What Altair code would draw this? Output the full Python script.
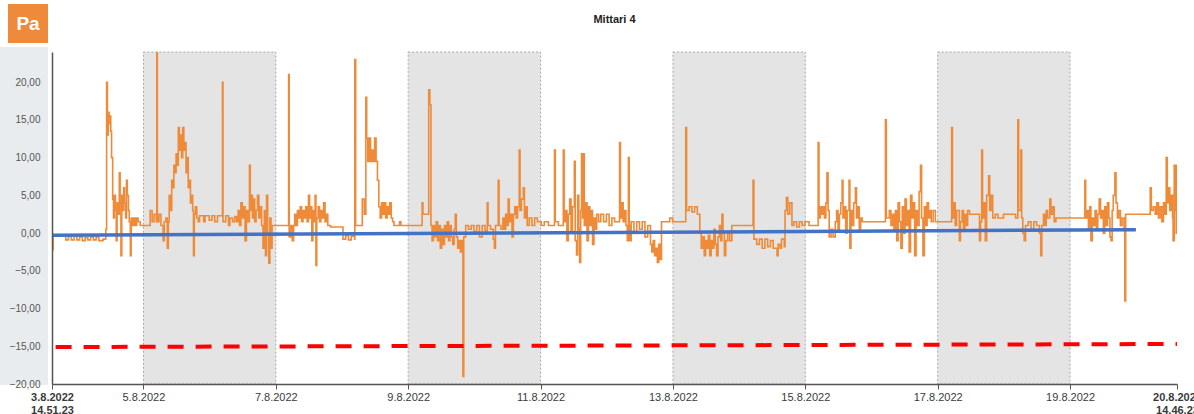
import altair as alt
import pandas as pd

# ---------------- data ----------------
START = "2022-08-03 14:51:23"
END = "2022-08-20 14:46:23"

# (hours since START, pressure Pa)
pressure_points = [
    (0, -2.2), (0.4, -0.3), (3, -0.3), (5, -0.9), (6, -0.4), (7, -0.9), (8, -0.4), (9, -0.9),
    (10, -0.5), (11, -1.0), (12, -0.6), (13, -0.9), (14, -0.5), (15, -0.9), (16, -0.5), (17, -1.0),
    (18.5, -0.8), (19.5, 0.5), (19.8, 20), (20.1, 13), (20.4, 16), (20.7, 14.5), (21, 15.5),
    (21.3, 13.5), (21.6, 10), (22, 4.5), (22.3, 2), (22.6, 5), (23, 3), (23.3, -1), (23.6, 4),
    (24, 2.5), (24.4, 8), (24.7, 4), (25, -3), (25.3, 5), (25.7, 3), (26, 6), (26.3, 4), (26.7, 2),
    (27, 7), (27.3, 5), (27.7, 3), (28, 1.5), (28.4, -3), (28.7, 2), (29.2, 1), (29.7, 2), (30.2, 1),
    (30.7, 2), (31.2, 1.5), (32, 1.0),
    (35.6, 3), (36.3, 1.5), (37, 2.5), (37.8, 1.5), (38, 25), (38.2, 1.5), (38.8, 2.5), (39.5, 1),
    (40.3, -1), (40.7, 1.5), (41.3, 2), (41.8, -2), (42.2, 1.5),
    (42.5, 5), (43, 3), (43.4, 7), (43.8, 6), (44.2, 9), (44.6, 8), (45, 10.5), (45.4, 9), (45.8, 14),
    (46.2, 11), (46.6, 13), (47, 10), (47.4, 14), (47.8, 11), (48.2, 12), (48.6, 8), (49, 10),
    (49.4, 6), (49.8, 7), (50.2, 4), (50.6, 5), (51, 3), (51.3, -3), (51.6, 2.5), (52, 3.5), (52.5, 2),
    (53, 1.5), (53.5, 2.3), (55, 1.5), (55.5, 2.3), (57, 1.7), (58, 2.3), (59, 1.5), (60, 2.3),
    (61.8, 20), (62, 1.5), (63, 2.3), (64, 1.0), (64.5, 2), (65.5, 1.5), (66.3, 2.2), (67, 1.5),
    (67.5, 3), (68, 1), (68.5, 4), (69, 2), (69.5, 3.5), (70, -1), (70.5, 3), (71, 1.5), (71.6, 9),
    (71.9, 3), (72.3, 5), (72.7, 2), (73.1, 4.5), (73.5, 1.5), (74, 3), (74.5, 5), (75, 2), (75.5, 3.5),
    (76, 1), (76.5, -2), (77, 3), (77.4, -3), (77.8, 5), (78.2, 0), (78.6, -4), (79, 2), (79.4, -2),
    (79.8, 1),
    (80.4, 1), (85.8, 21), (86, -0.5), (86.6, 1), (87.1, -1), (87.6, 1),
    (88, 2.5), (88.5, 1), (89, 3), (89.5, 2), (90, 3.5), (90.5, 1.5), (91, 3), (91.5, 2), (92, 3.5),
    (92.5, 1.5), (93, 5), (93.4, 2), (93.8, 3.5), (94.2, -1), (94.6, 3), (95, 1.5), (95.4, 5),
    (95.7, -4.3), (96, 2), (96.5, 3.5), (97, 1.5), (97.5, 3), (98, 2), (98.5, 4), (99, 1.5),
    (99.5, 2.5), (100, 1),
    (101, 0.8), (105.5, -0.8), (106.5, -0.3), (107.5, -0.9), (108.5, -0.4), (109.7, -0.8),
    (109.8, 23), (110.1, 1), (112.5, 4.5), (113.2, 2.5), (113.8, 18), (114.1, 12.6), (114.5, 9.5),
    (115, 12.6), (115.5, 9.5), (116, 11), (116.5, 9.5), (117, 12.6), (117.5, 9.5), (118, 7),
    (118.5, 3.5), (119, 2), (119.5, 4), (120, 2.5), (120.5, 4), (121, 2), (121.5, 3.5), (122, 2.5),
    (122.5, 4), (123, 2), (123.5, 1.5), (124, 1), (126, 1.5), (126.5, 1), (129.5, 1), (134.2, 4),
    (134.5, 2.5), (136.6, 19), (137, 17), (137.4, 1), (137.8, -1), (138.3, 1), (138.8, -0.5),
    (139.3, 1.5), (139.8, -1), (140.3, 1), (140.8, -2), (141.3, 0.5), (141.8, -1.5), (142.3, 1),
    (142.8, -0.5), (143.3, 1.5), (143.8, -1), (144.3, 1), (144.8, -0.5), (145.3, -1.5), (145.8, 0.5),
    (146.2, 2.5), (146.6, -0.5), (147.1, -2), (147.6, -1), (148.1, -2.5), (148.6, -1), (149, -19),
    (149.3, -0.5), (150, 1), (151, 0.5), (152, 1), (153, 0.2), (154, 1), (155, -0.5), (156, 1),
    (157, 0.3), (157.8, 4), (158.1, 1), (159, 0.5), (160, -0.8), (160.4, -2), (160.8, 1), (161.8, 7),
    (162.1, 1), (162.8, 0.5), (163.5, 2), (164, 0.5), (164.5, 2.5), (165, 1), (165.4, 4.5),
    (165.8, 1.5), (166.3, 2.5), (166.8, -0.5), (167.3, 2.5), (167.8, 3.5), (168.3, 2), (168.8, 3.5),
    (169.4, 11), (169.7, 3), (170.2, 4.5), (170.9, 6), (171.3, 2), (171.8, 3.5), (172.3, 1), (173, 2),
    (174, 1), (175, 2), (176, 1.5), (177.4, 1), (178.5, 1.5), (180, 1), (182.2, 11), (182.5, 1.5),
    (183.6, 1), (185.4, 11), (185.7, 1.5), (186.2, 3), (186.7, -1), (187.2, 2.5), (187.7, 4.5),
    (188.2, 0), (188.7, 3.5), (189.4, 9.5), (189.7, -1), (190.2, -2.9), (190.6, 5), (191, 0.5),
    (191.3, -3.9), (191.7, 3), (192, 10.5), (192.4, 2), (192.7, 10.5), (193, 1), (193.5, 4),
    (194, -1), (194.5, 3.5), (195, 1), (195.5, 3), (196, -1.5), (196.5, 2), (197, 0.5), (197.5, 2.5),
    (198.2, 1.5), (199, 2.5), (200, 1.5), (201, 2.5), (202, 1), (203, 2), (204, 1.5), (205.8, 12),
    (206.1, 2), (206.6, 4), (207.1, 1.5), (207.6, 3), (208.1, 1), (208.6, -1), (209, 10), (209.3, 1),
    (209.5, -1), (210, 1.5), (211, 0), (212, 1.5), (213, 0.5), (214, 1.5), (215, -0.5), (216, 1),
    (217, -1.5), (217.5, -2.5), (218, -1), (218.5, -3), (219, -2), (219.5, -3.9), (220, -1.5),
    (220.5, -3.5), (221, 1.5), (224, 2), (225, 1.5), (229.8, 14), (230.1, 3), (231, 3.5), (232, 2.8),
    (233, 3.5), (234, 2.5), (234.9, 0), (235.4, -2), (236, -0.5), (236.5, -3), (237, -1), (237.5, -2),
    (238, -0.3), (238.5, -3), (239, -1), (239.5, -2), (240, 0.5), (240.5, -1.5), (241, -3),
    (241.5, -0.5), (242, 1), (242.5, -1), (242.9, 2.5), (243.3, 0), (243.8, -3), (244.3, -1), (245, 0),
    (245.7, -1), (246.5, 1), (254.2, 7), (254.5, -0.8), (255.5, -1.5), (256.5, -0.8), (257.5, -2),
    (258.5, -0.8), (259.5, -1.8), (260.5, -1), (261.5, -2), (262.9, -3), (263.3, -1.5), (264, -2),
    (264.5, -0.8), (265.5, -1.8), (265.8, 3), (266.3, 4.7), (266.8, 2.5), (267.5, 4), (268.3, 1),
    (269, 1.5), (270, 0.8), (271, 1.5), (272, 1), (273, 1.5), (274.5, 1), (277.8, 12), (278.1, 2),
    (278.6, 3.5), (279.1, 2.5), (279.6, 3.5), (280.1, 2), (280.6, 4), (281, 8), (281.4, 3),
    (281.8, -0.5), (282.5, 0.5), (283.2, -0.5), (284, 1.5), (284.5, 3), (285, 0.5), (285.5, 2.5),
    (286, 4), (286.5, 7), (286.8, 2), (287.3, 3.5), (287.8, 0), (288.3, 3), (289, 7), (289.3, -2),
    (289.7, 3), (290.2, 1), (290.7, 4), (291.3, 6), (291.7, 2), (292.2, 3.5), (292.7, 0.5), (293.2, 2),
    (293.8, 1.5), (302.2, 15), (302.5, 2), (303.6, 3), (304.2, 1), (304.8, 2.5), (305.3, 0.5),
    (305.8, 3), (306.3, -1), (306.8, 4), (307.3, 1.5), (307.8, -2), (308.3, 3.5), (308.8, 0),
    (309.3, 4.5), (309.8, 1), (310.3, 3), (310.8, -2.5), (311.3, 5), (311.8, 2), (312.3, 4),
    (312.8, -3), (313.3, 3), (313.8, 1), (314.4, 5.5), (314.9, 9), (315.3, 2), (315.8, -3),
    (316.3, 3.5), (316.8, 1), (317.3, 4), (317.8, 2), (318.3, 3), (318.8, 1.5), (319.5, 3),
    (320.3, 1.5), (326.2, 14), (326.5, 2), (327, 4), (327.5, 1), (328, 3), (329, -1), (329.4, 1.5),
    (330, 3), (330.5, 0.5), (331, 2.5), (331.5, 1), (332, 3), (332.7, 2.5), (336.3, -1), (336.7, 1.5),
    (337.1, 11), (337.4, 2), (337.9, 4), (338.4, -1), (338.9, 5), (339.6, 7.6), (340, 3), (340.5, 5),
    (341.1, 2), (342, 2.5), (343, 2), (345, 2.5), (349.4, 2), (350.2, 15), (350.5, 3), (351.3, 11),
    (351.6, 2), (352, 0), (352.5, -1), (353, 1), (354, 1.5), (355, 0.5), (356, 1.5), (357, 1),
    (358, 0), (358.5, -3), (358.9, 1), (359.5, 2.5), (360, 1), (360.5, 3), (361, 2), (361.8, 4.5),
    (362.2, 2.5), (362.8, 3.5), (363.4, 1.5), (364, 2), (369, 2), (373.8, 2), (374.5, 7), (374.8, 2),
    (375.3, 3), (375.8, 0.5), (376.3, 3.5), (376.7, -1), (377.2, 2), (377.7, 1), (378.2, 3),
    (378.7, 0.5), (379.2, 2.5), (379.7, 4.5), (380.2, 2), (380.7, 3), (381.2, 0), (381.7, 3.5),
    (382.2, 1), (382.7, 4), (383.2, 2), (383.6, -0.5), (384, -1), (384.4, 3), (384.8, 5), (385.4, 8),
    (385.8, 4), (386.3, 2), (386.8, 3), (387.4, 1), (388, 2), (388.7, 0.5), (389, -9), (389.3, 2.5),
    (398, 2.5), (398.2, 6), (398.6, 3), (399.3, 3.5), (400, 2.5), (400.6, 4), (401.2, 2), (401.8, 3.5),
    (402.4, 1.5), (403, 4), (403.5, 2.5), (404, 10), (404.4, 4), (404.8, 6), (405.3, 3), (405.8, 5),
    (406.3, 2), (406.5, -1), (406.9, 9), (407.3, 3), (407.6, 0), (407.8, 9), (407.9, 2),
]

# weekend-style shaded periods
shade_starts = ["2022-08-05", "2022-08-09", "2022-08-13", "2022-08-17"]
shade_ends = ["2022-08-07", "2022-08-11", "2022-08-15", "2022-08-19"]

# blue trend line (hours since START, value)
trend_hours = [0.0, 393.0]
trend_values = [-0.3, 0.45]

# red dashed limit line
limit_hours = [1.3, 407.9]
limit_values = [-15.1, -14.7]

y_ticks = [-20, -15, -10, -5, 0, 5, 10, 15, 20]
x_tick_times = [START, "2022-08-05 00:00:00", "2022-08-07 00:00:00", "2022-08-09 00:00:00",
                "2022-08-11 00:00:00", "2022-08-13 00:00:00", "2022-08-15 00:00:00",
                "2022-08-17 00:00:00", "2022-08-19 00:00:00", END]

title_text = "Mittari 4"
unit_text = "Pa"

# ---------------- build ----------------
start_ts = pd.Timestamp(START)


def to_time(hours):
    return [start_ts + pd.Timedelta(hours=h) for h in hours]


def dt(s):
    t = pd.Timestamp(s)
    return alt.DateTime(year=t.year, month=t.month, date=t.day,
                        hours=t.hour, minutes=t.minute, seconds=t.second)


pressure_df = pd.DataFrame({
    "t": to_time([p[0] for p in pressure_points]),
    "v": [p[1] for p in pressure_points],
})
shade_df = pd.DataFrame({"s": pd.to_datetime(shade_starts), "e": pd.to_datetime(shade_ends)})
trend_df = pd.DataFrame({"t": to_time(trend_hours), "v": trend_values})
limit_df = pd.DataFrame({"t": to_time(limit_hours), "v": limit_values})

FONT = "Liberation Sans"
W, H = 1125, 332

x_scale = alt.Scale(domain=[dt(START), dt(END)], nice=False)
y_scale = alt.Scale(domain=[-20, 24], nice=False, zero=False)

x_axis = alt.Axis(
    values=[dt(s) for s in x_tick_times],
    labelExpr=("(hours(datum.value) != 0 || minutes(datum.value) != 0) ? "
               "[timeFormat(datum.value, '%-d.%-m.%Y'), timeFormat(datum.value, '%H.%M.%S')] : "
               "timeFormat(datum.value, '%-d.%-m.%Y')"),
    labelFontWeight={"condition": {"test": "hours(datum.value) != 0 || minutes(datum.value) != 0",
                                   "value": "bold"}, "value": "normal"},
    labelOverlap=False, labelFlush=False, labelBound=False,
    labelFontSize=11, labelFont=FONT, labelColor="#3a3a3a", labelPadding=2, labelLineHeight=13,
    tickSize=5, tickColor="#555555", domainColor="#555555", domainWidth=1.5,
    grid=False, title=None, zindex=1,
)
y_axis = alt.Axis(
    values=y_ticks,
    labelExpr="replace(format(datum.value, '.2f'), '.', ',')",
    ticks=False, grid=False, title=None, labelPadding=12,
    labelFontSize=10, labelFont=FONT, labelColor="#555555",
    domainColor="#555555", domainWidth=1.5, zindex=1,
)

one = pd.DataFrame({"a": [0]})

panel = alt.Chart(one).mark_rect(color="#e8ecef", clip=False).encode(
    x=alt.value(-52), x2=alt.value(-4), y=alt.value(-5), y2=alt.value(333)
)
pa_box = alt.Chart(one).mark_rect(color="#ed8a3c", clip=False).encode(
    x=alt.value(-44), x2=alt.value(-4), y=alt.value(-48), y2=alt.value(-9)
)
pa_text = alt.Chart(one).mark_text(
    text=unit_text, color="white", font=FONT, fontSize=19, fontWeight="bold",
    align="center", baseline="middle", clip=False,
).encode(x=alt.value(-24), y=alt.value(-28))
title = alt.Chart(one).mark_text(
    text=title_text, color="#222222", font=FONT, fontSize=11, fontWeight="bold",
    align="center", baseline="middle", clip=False,
).encode(x=alt.value(W / 2), y=alt.value(-32))

shades = alt.Chart(shade_df).mark_rect(
    fill="#e4e4e4", stroke="#a8a8a8", strokeWidth=1, strokeDash=[2, 2]
).encode(
    x=alt.X("s:T", scale=x_scale, axis=x_axis),
    x2="e:T",
)

pressure = alt.Chart(pressure_df).mark_line(
    interpolate="step-after", color="#ee8a38", strokeWidth=1.6, clip=True
).encode(
    x=alt.X("t:T", scale=x_scale, axis=x_axis),
    y=alt.Y("v:Q", scale=y_scale, axis=y_axis),
)

trend = alt.Chart(trend_df).mark_line(color="#4472c4", strokeWidth=3.5).encode(
    x=alt.X("t:T", scale=x_scale),
    y=alt.Y("v:Q", scale=y_scale),
)

limit = alt.Chart(limit_df).mark_line(
    color="#ff0000", strokeWidth=4, strokeDash=[16, 12], strokeCap="butt"
).encode(
    x=alt.X("t:T", scale=x_scale),
    y=alt.Y("v:Q", scale=y_scale),
)

chart = alt.layer(panel, pa_box, pa_text, title, shades, pressure, trend, limit).properties(
    width=W, height=H,
    autosize=alt.AutoSizeParams(type="none"),
    padding={"left": 52, "top": 52, "right": 17, "bottom": 30},
    background="white",
).configure_view(stroke=None)

chart.save("out.html", embed_options={"renderer": "svg", "actions": False})
